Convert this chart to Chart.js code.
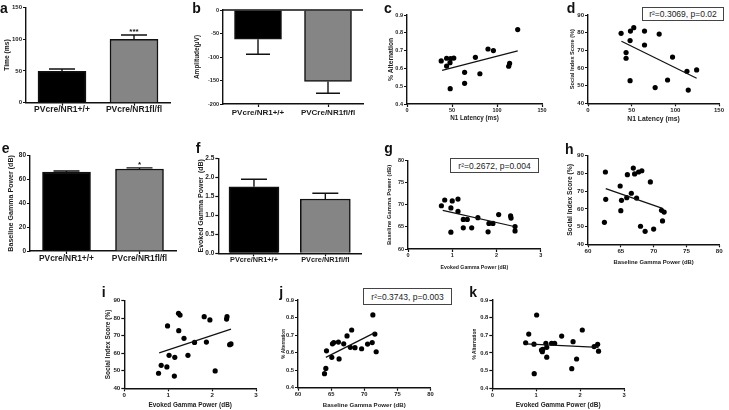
<!DOCTYPE html>
<html><head><meta charset="utf-8">
<script src="https://cdn.jsdelivr.net/npm/chart.js"></script>
<style>
html,body{margin:0;padding:0;background:#fff;}
#fig{position:relative;width:729px;height:410px;overflow:hidden;background:#fff;font-family:'Liberation Sans',Arial,sans-serif;}
#fig canvas{position:absolute;}
.lbl{position:absolute;font-weight:bold;font-size:14px;line-height:14px;color:#111;}
.box{position:absolute;box-sizing:border-box;border:1px solid #444;font-size:8.5px;color:#222;display:flex;align-items:center;justify-content:center;white-space:nowrap;background:#fff;}
</style></head><body><div id="fig"></div>
<script>
// ---------------- DATA ----------------
const groupsA = ['PVcre/NR1+/+', 'PVcre/NR1fl/fl'];
const groupsB = ['PVcre/NR1+/+', 'PVCre/NR1fl/fl'];

const aMean = [49.5, 99.5];
const aErr = [53, 106.5];
const aSig = ['', '***'];
const aYTicks = [0, 50, 100, 150];

const bMean = [-62, -152];
const bErr = [-94, -177];
const bYTicks = [-200, -150, -100, -50, 0];

const eMean = [66.3, 68.8];
const eErr = [67.1, 69.8];
const eSig = ['', '*'];
const eYTicks = [0, 20, 40, 60, 80];

const fMean = [1.75, 1.43];
const fErr = [1.95, 1.58];
const fYTicks = [0, 0.5, 1.0, 1.5, 2.0, 2.5];

const cX = [38, 44, 44, 48.5, 47.8, 52, 48, 64, 64, 76, 81, 90, 96, 113, 114, 123];
const cY = [0.642, 0.613, 0.657, 0.655, 0.632, 0.658, 0.486, 0.578, 0.516, 0.662, 0.570, 0.709, 0.700, 0.612, 0.628, 0.818];
const cFitX = [39, 123];
const cFitY = [0.589, 0.698];
const cXTicks = [0, 50, 100, 150];
const cYTicks = [0.4, 0.5, 0.6, 0.7, 0.8, 0.9];

const dX = [37.9, 48.6, 52.4, 48.2, 43.6, 43.6, 48.2, 64.7, 64.7, 81.5, 96.8, 91.1, 76.9, 113.3, 124.4, 114.8];
const dY = [79.6, 80.9, 82.8, 75.5, 68.7, 65.5, 52.8, 80.9, 73.0, 79.2, 66.2, 53.2, 48.9, 58.1, 58.9, 47.5];
const dFitX = [38.3, 124.4];
const dFitY = [75.1, 54.2];
const dXTicks = [0, 50, 100, 150];
const dYTicks = [40, 50, 60, 70, 80, 90];

const gX = [0.755, 0.83, 1.0, 0.97, 1.13, 1.13, 0.97, 1.25, 1.34, 1.25, 1.44, 1.58, 1.83, 1.92, 1.81, 2.05, 2.32, 2.33, 2.42, 2.42];
const gY = [69.8, 71.1, 70.9, 69.3, 71.3, 68.5, 63.8, 66.7, 66.7, 64.8, 64.8, 67.1, 65.8, 65.8, 63.9, 67.8, 67.5, 67.0, 65.1, 64.1];
const gFitX = [0.785, 2.4];
const gFitY = [68.75, 65.1];
const gXTicks = [0, 1, 2, 3];
const gYTicks = [60, 65, 70, 75, 80];

const hX = [62.65, 62.5, 62.7, 64.9, 65.1, 65.0, 65.9, 66.0, 66.6, 66.9, 67.1, 67.4, 67.7, 68.2, 68.0, 68.7, 70.0, 69.5, 71.2, 71.6, 71.35];
const hY = [80.8, 52.4, 65.4, 72.9, 64.8, 59.0, 66.3, 79.3, 68.8, 83.0, 79.7, 66.1, 80.8, 81.5, 50.2, 47.3, 48.6, 75.2, 59.2, 58.2, 53.2];
const hFitX = [62.7, 71.35];
const hFitY = [71.4, 60.3];
const hXTicks = [60, 65, 70, 75, 80];
const hYTicks = [40, 50, 60, 70, 80, 90];

const iX = [0.78, 0.84, 0.97, 0.985, 1.02, 1.15, 1.14, 1.24, 1.235, 1.27, 1.36, 1.45, 1.6, 1.87, 1.82, 1.95, 2.07, 2.33, 2.34, 2.4, 2.43];
const iY = [48.6, 53.1, 52.2, 75.6, 58.8, 57.7, 47.0, 72.9, 82.8, 81.8, 68.5, 58.8, 66.2, 66.4, 80.9, 79.0, 49.9, 79.5, 80.9, 64.9, 65.3];
const iFitX = [0.795, 2.43];
const iFitY = [60.2, 73.8];
const iXTicks = [0, 1, 2, 3];
const iYTicks = [40, 50, 60, 70, 80, 90];

const jX = [64.0, 64.2, 64.3, 65.1, 65.2, 65.4, 66.1, 66.2, 66.9, 67.4, 67.9, 68.1, 68.6, 69.6, 70.5, 71.2, 71.3, 71.6, 71.8];
const jY = [0.48, 0.51, 0.61, 0.573, 0.65, 0.657, 0.66, 0.564, 0.65, 0.695, 0.63, 0.729, 0.628, 0.622, 0.649, 0.657, 0.815, 0.706, 0.605];
const jFitX = [64.2, 71.6];
const jFitY = [0.573, 0.714];
const jXTicks = [60, 65, 70, 75, 80];
const jYTicks = [0.4, 0.5, 0.6, 0.7, 0.8, 0.9];

const kX = [0.76, 0.83, 0.95, 1.01, 0.955, 1.12, 1.14, 1.15, 1.22, 1.24, 1.24, 1.35, 1.42, 1.58, 1.84, 2.05, 1.92, 1.81, 2.32, 2.4, 2.42];
const kY = [0.658, 0.707, 0.65, 0.815, 0.483, 0.617, 0.607, 0.62, 0.655, 0.576, 0.632, 0.655, 0.655, 0.696, 0.664, 0.73, 0.566, 0.511, 0.636, 0.649, 0.61];
const kFitX = [0.76, 2.42];
const kFitY = [0.652, 0.632];
const kXTicks = [0, 1, 2, 3];
const kYTicks = [0.4, 0.5, 0.6, 0.7, 0.8, 0.9];

// ---------------- LAYOUT / STYLE ----------------
const FF = "'Liberation Sans', Arial, Helvetica, sans-serif";
const INK = '#111111';
const TXT = '#1c1c1c';
const BAR_COLORS = ['#000000', '#858585'];
const fig = document.getElementById('fig');

const L = {
  a:{left:26,right:170,top:7.3,bottom:102.7,yTitleX:6.7,yTitleSize:6.7,tickSize:6,labelY:109,labelSize:8.5,barW:48,cap:26},
  b:{left:223,right:363,top:10,bottom:104,yTitleX:197.7,yTitleSize:6.5,tickSize:5.5,labelY:112.7,labelSize:8,barW:47,cap:24},
  c:{left:407,right:542,top:15,bottom:104,yTitleX:391,yTitleSize:6.7,tickSize:5.5,xTitleY:118.3,xTitleSize:6.3},
  d:{left:588,right:719,top:15,bottom:103.3,yTitleX:572.3,yTitleSize:5.6,tickSize:6,xTitleY:119,xTitleSize:6.8},
  e:{left:30,right:176,top:155.7,bottom:251,yTitleX:10.7,yTitleSize:7.1,tickSize:6.5,labelY:258.3,labelSize:8.4,barW:48,cap:26},
  f:{left:218.3,right:361,top:158.3,bottom:253.3,yTitleX:201,yTitleSize:7,tickSize:6.5,labelY:260,labelSize:7.3,barW:50,cap:26},
  g:{left:408,right:540.7,top:160.7,bottom:249,yTitleX:389.3,yTitleSize:5.9,tickSize:5.5,xTitleY:267.3,xTitleSize:5.2},
  h:{left:588,right:719.3,top:155.7,bottom:244.3,yTitleX:570,yTitleSize:6.7,tickSize:6.2,xTitleY:262.3,xTitleSize:5.9},
  i:{left:124.3,right:256,top:300.7,bottom:388.3,yTitleX:108.3,yTitleSize:6.5,tickSize:6.2,xTitleY:405,xTitleSize:6.4},
  j:{left:298,right:430.5,top:300,bottom:387.7,yTitleX:283.3,yTitleSize:4.6,tickSize:5.8,xTitleY:405,xTitleSize:6.1},
  k:{left:492.3,right:624,top:300,bottom:388.3,yTitleX:475,yTitleSize:4.8,tickSize:5.8,xTitleY:405,xTitleSize:6.5}
};

function fmt0(v){ return String(v); }
function fmt1(v){ return Number(v).toFixed(1); }

function geometry(g) {
  const yOff = 0.6 * g.yTitleSize;
  const cLeft = Math.floor(g.yTitleX - yOff);
  const padLeft = g.yTitleX - yOff - cLeft;
  const cTop = Math.max(0, Math.floor(g.top - 7));
  const padTop = g.top - cTop;
  const cRight = Math.ceil(g.right + 12);
  const padRight = cRight - g.right;
  let cBottom, padBottom;
  if (g.xTitleY) { const tb = g.xTitleY + 0.6 * g.xTitleSize; cBottom = Math.ceil(tb); padBottom = cBottom - tb; }
  else { cBottom = Math.ceil(g.labelY + g.labelSize / 2 + 2); padBottom = 0; }
  return {cLeft, cTop, W: cRight - cLeft, H: cBottom - cTop, padLeft, padTop, padRight, padBottom,
          yWidth: g.left - cLeft - padLeft, xHeight: (cBottom - padBottom) - g.bottom};
}

function makeCanvas(geo) {
  const c = document.createElement('canvas');
  c.width = geo.W; c.height = geo.H;
  c.style.left = geo.cLeft + 'px'; c.style.top = geo.cTop + 'px';
  c.style.width = geo.W + 'px'; c.style.height = geo.H + 'px';
  fig.appendChild(c);
  return c;
}

function titleOpt(text, size) {
  return {display:true, text, color:TXT, font:{family:FF, size, weight:'bold', lineHeight:1.2}, padding:0};
}
function axisLook() {
  return {
    border:{display:true, color:INK, width:1.4},
    grid:{display:true, drawOnChartArea:false, drawTicks:true, tickLength:3, tickWidth:1.2, tickColor:INK, color:INK}
  };
}
function linScale(ticksArr, fmt, size, extra) {
  return Object.assign({
    type:'linear', min: ticksArr[0], max: ticksArr[ticksArr.length - 1],
    ticks:{color:TXT, font:{family:FF, size, weight:'bold', lineHeight:1}, padding:1, autoSkip:false, maxRotation:0, callback: v => fmt(v)},
    afterBuildTicks: s => { s.ticks = ticksArr.map(v => ({value:v})); }
  }, axisLook(), extra);
}
function baseOptions(geo) {
  return {
    responsive:false, animation:false, devicePixelRatio:1, events:[],
    layout:{padding:{left:geo.padLeft, top:geo.padTop, right:geo.padRight, bottom:geo.padBottom}},
    plugins:{legend:{display:false}, tooltip:{enabled:false}, title:{display:false}}
  };
}

function barPanel(g, cats, means, errs, sig, yTicks, fmt, yTitle, zeroLine) {
  const geo = geometry(g);
  const canvas = makeCanvas(geo);
  const pad = Math.max(0, g.labelY - g.bottom - 3 - g.labelSize / 2);
  const plugin = {
    id:'errbars',
    afterDatasetsDraw(chart) {
      const ctx = chart.ctx, y = chart.scales.y, meta = chart.getDatasetMeta(0), area = chart.chartArea;
      ctx.save();
      ctx.strokeStyle = INK; ctx.lineWidth = 1.4;
      if (zeroLine) {
        const y0 = y.getPixelForValue(0);
        ctx.beginPath(); ctx.moveTo(area.left, y0); ctx.lineTo(area.right, y0); ctx.stroke();
      }
      errs.forEach((e, i) => {
        const x = meta.data[i].x;
        const ym = y.getPixelForValue(means[i]);
        const ye = y.getPixelForValue(e);
        ctx.beginPath();
        ctx.moveTo(x, ym); ctx.lineTo(x, ye);
        ctx.moveTo(x - g.cap / 2, ye); ctx.lineTo(x + g.cap / 2, ye);
        ctx.stroke();
        if (sig && sig[i]) {
          ctx.fillStyle = INK; ctx.font = 'bold 8px ' + FF; ctx.textAlign = 'center'; ctx.textBaseline = 'alphabetic';
          ctx.fillText(sig[i], x, Math.min(ym, ye) - 1);
        }
      });
      ctx.restore();
    }
  };
  const opts = baseOptions(geo);
  opts.scales = {
    x: Object.assign({
      type:'category', offset:true,
      ticks:{color:TXT, font:{family:FF, size:g.labelSize, weight:'bold', lineHeight:1}, padding:pad, autoSkip:false, maxRotation:0, minRotation:0},
      afterFit: s => { s.height = geo.xHeight; }
    }, axisLook()),
    y: linScale(yTicks, fmt, g.tickSize, {title:titleOpt(yTitle, g.yTitleSize), afterFit: s => { s.width = geo.yWidth; }})
  };
  opts.scales.x.grid.offset = false;
  new Chart(canvas, {
    type:'bar',
    data:{labels:cats, datasets:[{data:means, backgroundColor:BAR_COLORS, borderColor:INK, borderWidth:1.5, barThickness:g.barW, borderSkipped:'start'}]},
    options:opts,
    plugins:[plugin]
  });
}

function scatterPanel(g, xs, ys, fitX, fitY, xTicks, yTicks, xFmt, yFmt, xTitle, yTitle) {
  const geo = geometry(g);
  const canvas = makeCanvas(geo);
  const pts = xs.map((x, i) => ({x, y: ys[i]}));
  const fit = fitX.map((x, i) => ({x, y: fitY[i]}));
  const opts = baseOptions(geo);
  opts.scales = {
    x: linScale(xTicks, xFmt, g.tickSize, {position:'bottom', title:titleOpt(xTitle, g.xTitleSize), afterFit: s => { s.height = geo.xHeight; }}),
    y: linScale(yTicks, yFmt, g.tickSize, {position:'left', title:titleOpt(yTitle, g.yTitleSize), afterFit: s => { s.width = geo.yWidth; }})
  };
  new Chart(canvas, {
    type:'scatter',
    data:{datasets:[
      {data:fit, showLine:true, borderColor:INK, borderWidth:1.2, pointRadius:0, fill:false, clip:false},
      {data:pts, showLine:false, pointRadius:2.6, pointBackgroundColor:'#000', pointBorderWidth:0, pointBorderColor:'#000', clip:false}
    ]},
    options:opts
  });
}

// ---------------- BUILD ----------------
barPanel(L.a, groupsA, aMean, aErr, aSig, aYTicks, fmt0, 'Time (ms)', false);
barPanel(L.b, groupsB, bMean, bErr, null, bYTicks, fmt0, 'Amplitude(\u00b5V)', true);
scatterPanel(L.c, cX, cY, cFitX, cFitY, cXTicks, cYTicks, fmt0, fmt1, 'N1 Latency (ms)', '% Alternation');
scatterPanel(L.d, dX, dY, dFitX, dFitY, dXTicks, dYTicks, fmt0, fmt0, 'N1 Latency (ms)', 'Social Index Score (%)');
barPanel(L.e, groupsA, eMean, eErr, eSig, eYTicks, fmt0, 'Baseline Gamma Power (dB)', false);
barPanel(L.f, groupsA, fMean, fErr, null, fYTicks, fmt1, 'Evoked Gamma Power  (dB)', false);
scatterPanel(L.g, gX, gY, gFitX, gFitY, gXTicks, gYTicks, fmt0, fmt0, 'Evoked Gamma Power (dB)', 'Baseline Gamma Power (dB)');
scatterPanel(L.h, hX, hY, hFitX, hFitY, hXTicks, hYTicks, fmt0, fmt0, 'Baseline Gamma Power (dB)', 'Social Index Score (%)');
scatterPanel(L.i, iX, iY, iFitX, iFitY, iXTicks, iYTicks, fmt0, fmt0, 'Evoked Gamma Power (dB)', 'Social Index Score (%)');
scatterPanel(L.j, jX, jY, jFitX, jFitY, jXTicks, jYTicks, fmt0, fmt1, 'Baseline Gamma Power (dB)', '% Alternation');
scatterPanel(L.k, kX, kY, kFitX, kFitY, kXTicks, kYTicks, fmt0, fmt1, 'Evoked Gamma Power (dB)', '% Alternation');

// Panel letters (baseline positions)
const letters = [['a',0,12.7],['b',192.3,13.3],['c',384,13.3],['d',566.7,13.3],['e',1.7,153.3],['f',195.7,153.3],
                 ['g',384.3,152.7],['h',565,154],['i',101.7,296.7],['j',279.3,296.7],['k',469.3,296.7]];
letters.forEach(([t, x, yb]) => {
  const d = document.createElement('div');
  d.className = 'lbl'; d.textContent = t;
  d.style.left = x + 'px'; d.style.top = (yb - 11.85) + 'px';
  fig.appendChild(d);
});

// Statistics boxes
const boxes = [['r\u00b2=0.3069, p=0.02', 642, 7, 82, 14], ['r\u00b2=0.2672, p=0.004', 450, 158, 89, 15], ['r\u00b2=0.3743, p=0.003', 363, 288, 89, 17]];
boxes.forEach(([t, x, y, w, h]) => {
  const d = document.createElement('div');
  d.className = 'box'; d.textContent = t;
  d.style.left = x + 'px'; d.style.top = y + 'px'; d.style.width = w + 'px'; d.style.height = h + 'px';
  fig.appendChild(d);
});
</script>
</body></html>
